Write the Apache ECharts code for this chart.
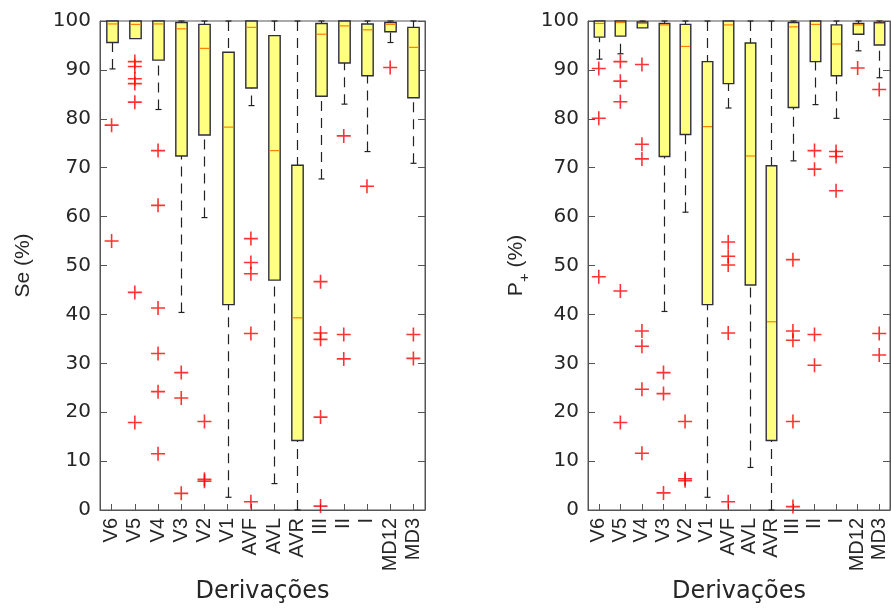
<!DOCTYPE html>
<html>
<head>
<meta charset="utf-8">
<script src="https://cdn.jsdelivr.net/npm/echarts@6/dist/echarts.min.js"></script>
<style>
html,body{margin:0;padding:0;background:#fff;}
#chart{width:891px;height:609px;}
</style>
</head>
<body>
<div id="chart"></div>
<script>
// ---- data ----
const categories = ['V6','V5','V4','V3','V2','V1','AVF','AVL','AVR','III','II','I','MD12','MD3'];
const yTicks = [0,10,20,30,40,50,60,70,80,90,100];

// Se (%) : whisker low, Q1, median, Q3, whisker high
const seLow  = [90.2, 96.4, 81.9, 40.4, 59.8,  2.6, 82.7,  5.4,  0.0, 67.7, 83.0, 73.3, 95.6, 70.9];
const seQ1   = [95.6, 96.4, 92.0, 72.4, 76.7, 42.0, 86.3, 47.0, 14.2, 84.6, 91.4, 88.8, 97.8, 84.3];
const seMed  = [99.4, 99.3, 99.4, 98.4, 94.4, 78.3, 98.7, 73.5, 39.3, 97.3, 99.0, 98.2, 99.3, 94.6];
const seQ3   = [100, 100, 100, 99.7, 99.3, 93.6, 100, 97.0, 70.5, 99.5, 100, 99.4, 99.7, 98.7];
const seHigh = [100, 100, 100, 100, 100, 100, 100, 100, 100, 100, 100, 100, 100, 100];
const seOutliers = [
  [78.7, 55.0],
  [91.7, 90.7, 88.2, 87.2, 83.4, 44.5, 17.9],
  [73.5, 62.3, 41.3, 32.0, 24.2, 11.5],
  [28.1, 22.9, 3.4],
  [18.1, 6.3, 5.9],
  [],
  [55.5, 50.6, 48.3, 36.1, 1.7],
  [],
  [],
  [46.7, 36.2, 34.9, 19.0, 0.8],
  [76.5, 35.9, 30.9],
  [66.2],
  [90.5],
  [35.9, 31.0]
];

// P+ (%)
const pLow  = [92.2, 93.3, 98.6, 40.6, 60.9,  2.6, 82.2,  8.7,  0.0, 71.4, 82.9, 80.1, 93.9, 88.4];
const pQ1   = [96.7, 96.9, 98.6, 72.3, 76.8, 42.0, 87.2, 46.0, 14.2, 82.3, 91.7, 88.8, 97.3, 95.1];
const pMed  = [99.5, 99.7, 99.5, 99.2, 94.8, 78.4, 99.2, 72.4, 38.5, 98.8, 99.3, 95.3, 99.2, 99.5];
const pQ3   = [100, 100, 99.8, 99.5, 99.3, 91.7, 100, 95.5, 70.4, 99.7, 100, 99.2, 99.5, 99.7];
const pHigh = [100, 100, 100, 100, 100, 100, 100, 100, 100, 100, 100, 100, 100, 100];
const pOutliers = [
  [90.3, 80.1, 47.7],
  [91.7, 87.7, 83.5, 44.8, 17.9],
  [91.1, 74.8, 71.8, 36.6, 33.5, 24.7, 11.6],
  [28.1, 23.8, 3.5],
  [18.1, 6.4, 6.0],
  [],
  [54.8, 51.9, 50.1, 36.2, 1.7],
  [],
  [],
  [51.2, 36.6, 34.7, 18.1, 0.7],
  [73.5, 69.7, 35.9, 29.6],
  [73.3, 72.3, 65.3],
  [90.4],
  [86.0, 36.1, 31.7]
];

// ---- helpers ----
function boxData(lo, q1, md, q3, hi) {
  return categories.map((c, i) => [i, lo[i], q1[i], md[i], q3[i], hi[i]]);
}
function outlierData(out) {
  const arr = [];
  out.forEach((vals, i) => vals.forEach(v => arr.push([i, v])));
  return arr;
}

const TEXT = '#262626';
const FRAME = '#555555';

function renderBox(params, api) {
  const x = api.value(0);
  const lo = api.value(1), q1 = api.value(2), md = api.value(3), q3 = api.value(4), hi = api.value(5);
  const band = api.size([1, 0])[0];
  const bw = band * 0.49;
  const cw = 3;
  const pLo = api.coord([x, lo]);
  const pQ1 = api.coord([x, q1]);
  const pMd = api.coord([x, md]);
  const pQ3 = api.coord([x, q3]);
  const pHi = api.coord([x, hi]);
  const cx = Math.round(pLo[0]) + 0.5;
  const children = [];
  const wStyle = { stroke: '#222222', lineWidth: 1.2, lineDash: [10, 7] };
  if (hi > q3 + 0.05) {
    children.push({ type: 'line', shape: { x1: cx, y1: pHi[1], x2: cx, y2: pQ3[1] }, style: wStyle });
    children.push({ type: 'line', shape: { x1: cx - cw, y1: pHi[1], x2: cx + cw, y2: pHi[1] }, style: { stroke: '#222222', lineWidth: 1.2 } });
  }
  if (lo < q1 - 0.05) {
    children.push({ type: 'line', shape: { x1: cx, y1: pLo[1], x2: cx, y2: pQ1[1] }, style: wStyle });
    children.push({ type: 'line', shape: { x1: cx - cw, y1: pLo[1], x2: cx + cw, y2: pLo[1] }, style: { stroke: '#222222', lineWidth: 1.2 } });
  }
  children.push({
    type: 'rect',
    shape: { x: cx - bw / 2, y: pQ3[1], width: bw, height: pQ1[1] - pQ3[1] },
    style: { fill: '#ffff80', stroke: '#2d2d40', lineWidth: 1.4 }
  });
  children.push({
    type: 'line',
    shape: { x1: cx - bw / 2 + 0.7, y1: pMd[1], x2: cx + bw / 2 - 0.7, y2: pMd[1] },
    style: { stroke: '#ff7f00', lineWidth: 1.2 }
  });
  return { type: 'group', children: children };
}

const plusPath = 'path://M6.2,0H7.8V14H6.2Z M0,6.2H14V7.8H0Z';

function xAxisCfg(gridIndex) {
  return {
    type: 'category', gridIndex: gridIndex, data: categories,
    boundaryGap: true,
    axisLine: { show: true, lineStyle: { color: FRAME, width: 1 } },
    axisTick: { show: true, inside: true, alignWithLabel: true, length: 6, lineStyle: { color: FRAME } },
    axisLabel: { rotate: 90, margin: 8, interval: 0, color: TEXT, fontSize: 20, fontFamily: 'Liberation Sans' },
    splitLine: { show: false },
    name: 'Derivações', nameLocation: 'middle', nameGap: 70,
    nameTextStyle: { color: TEXT, fontSize: 24, fontFamily: 'DejaVu Sans' }
  };
}
function yAxisCfg(gridIndex, pos, name, nameStyle, gap) {
  const isLeft = pos === 'left';
  return {
    type: 'value', gridIndex: gridIndex, position: pos,
    min: 0, max: 100, interval: 10,
    axisLine: { show: true, lineStyle: { color: FRAME, width: 1 } },
    axisTick: { show: true, inside: true, length: 7, lineStyle: { color: FRAME } },
    axisLabel: { show: isLeft, margin: 9, color: TEXT, fontSize: 20, fontFamily: 'DejaVu Sans',
      formatter: v => (yTicks.indexOf(v) >= 0 ? String(v) : '') },
    splitLine: { show: false },
    name: isLeft ? name : '', nameLocation: 'middle', nameGap: gap || 60,
    nameTextStyle: nameStyle || {}
  };
}

const chart = echarts.init(document.getElementById('chart'), null, { renderer: 'canvas' });
chart.setOption({
  animation: false,
  backgroundColor: '#ffffff',
  grid: [
    { left: 100, top: 21, width: 325, height: 492, show: true, borderColor: FRAME, borderWidth: 1, backgroundColor: 'transparent' },
    { left: 588, top: 21, width: 302, height: 492, show: true, borderColor: FRAME, borderWidth: 1, backgroundColor: 'transparent' }
  ],
  xAxis: [xAxisCfg(0), xAxisCfg(1)],
  yAxis: [
    yAxisCfg(0, 'left', 'Se (%)', { color: TEXT, fontSize: 21, fontFamily: 'Liberation Sans' }, 66),
    yAxisCfg(0, 'right'),
    yAxisCfg(1, 'left', '{a|P}{s|+}{a| (%)}', {
      color: TEXT, fontSize: 21, fontFamily: 'Liberation Sans',
      rich: {
        a: { fontSize: 21, fontFamily: 'Liberation Sans', color: TEXT, lineHeight: 24, verticalAlign: 'bottom' },
        s: { fontSize: 15, fontFamily: 'Liberation Sans', color: TEXT, lineHeight: 15, verticalAlign: 'bottom', padding: [0, 0, -5, 0] }
      }
    }, 61),
    yAxisCfg(1, 'right')
  ],
  series: [
    { type: 'custom', xAxisIndex: 0, yAxisIndex: 0, renderItem: renderBox,
      data: boxData(seLow, seQ1, seMed, seQ3, seHigh), z: 2, clip: false },
    { type: 'scatter', xAxisIndex: 0, yAxisIndex: 0, symbol: plusPath, symbolSize: 14,
      itemStyle: { color: '#ff0000' }, data: outlierData(seOutliers), z: 3 },
    { type: 'custom', xAxisIndex: 1, yAxisIndex: 2, renderItem: renderBox,
      data: boxData(pLow, pQ1, pMed, pQ3, pHigh), z: 2, clip: false },
    { type: 'scatter', xAxisIndex: 1, yAxisIndex: 2, symbol: plusPath, symbolSize: 14,
      itemStyle: { color: '#ff0000' }, data: outlierData(pOutliers), z: 3 }
  ]
});
</script>
</body>
</html>
